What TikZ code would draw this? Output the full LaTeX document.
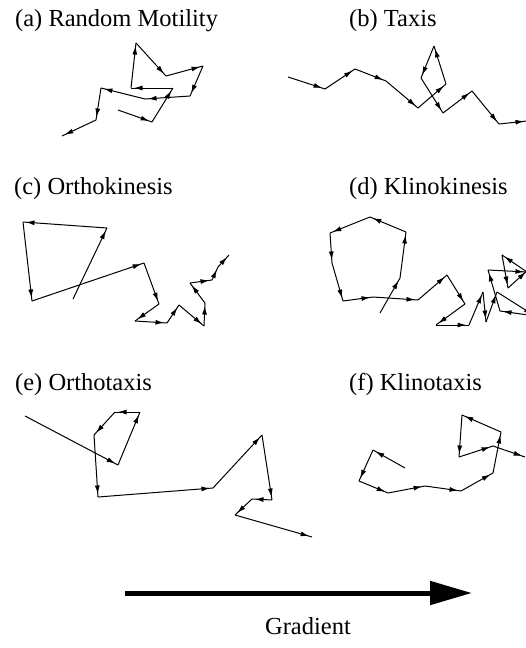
\documentclass[tikz,border=0pt]{standalone}
\usepackage{fontspec}
\setmainfont{Liberation Serif}
\usetikzlibrary{arrows.meta,decorations.markings}

\begin{document}
\begin{tikzpicture}[x=1pt, y=-1pt,
    seg/.style={line width=1pt, postaction={decorate},
        decoration={markings, mark=at position -3pt with {\arrow{Latex[length=8.5pt,width=5pt]}}}},
    nhan/.style={anchor=base west, inner sep=0pt, font=\fontsize{24.5}{28}\selectfont}]
    \clip (0,0) rectangle (526,648);

    % 1. Tên các hình
    \node[nhan] (ta) at (15,26) {(a) Random Motility};
    \node[nhan] (tb) at (349,26) {(b) Taxis};
    \node[nhan] (tc) at (14,194) {(c) Orthokinesis};
    \node[nhan] (td) at (349,194) {(d) Klinokinesis};
    \node[nhan] (te) at (15,390) {(e) Orthotaxis};
    \node[nhan] (tf) at (349,390) {(f) Klinotaxis};

    % 2. (a) Random Motility
    \foreach \x/\y [count=\i, remember=\x as \ox, remember=\y as \oy] in
        {118/110, 152/122, 173/88, 131/88, 136/43, 166/76, 203/66, 190/96,
         145/99, 101/88, 96/120, 62/136} {
        \ifnum\i>1 \draw[seg] (\ox,\oy) -- (\x,\y); \fi
    }

    % 3. (b) Taxis
    \foreach \x/\y [count=\i, remember=\x as \ox, remember=\y as \oy] in
        {288/77, 325/89, 355/69, 386/81, 418/108, 446/84, 434/46, 421/78,
         443/113, 472/91, 499/124, 527/121} {
        \ifnum\i>1 \draw[seg] (\ox,\oy) -- (\x,\y); \fi
    }

    % 4. (c) Orthokinesis
    \foreach \x/\y [count=\i, remember=\x as \ox, remember=\y as \oy] in
        {73/299, 107/228, 23/222, 32/301, 144/263, 159/304, 135/321, 167/323,
         179/305, 204/326, 205/303, 190/283, 212/280, 218/267, 229/255} {
        \ifnum\i>1 \draw[seg] (\ox,\oy) -- (\x,\y); \fi
    }

    % 5. (d) Klinokinesis
    \foreach \x/\y [count=\i, remember=\x as \ox, remember=\y as \oy] in
        {380/313, 400/278, 406/232, 370/217, 330/233, 332/263, 343/301, 373/297,
         418/300, 447/275, 465/304, 436/325, 469/325, 483/292, 486/322, 497/292,
         535/316, 500/311, 488/270, 527/272, 502/255, 508/288, 528/270} {
        \ifnum\i>1 \draw[seg] (\ox,\oy) -- (\x,\y); \fi
    }

    % 6. (e) Orthotaxis
    \foreach \x/\y [count=\i, remember=\x as \ox, remember=\y as \oy] in
        {25/416, 118/465, 140/412, 115/412, 94/435, 98/497, 213/488, 262/435,
         272/500, 252/499, 235/515, 312/537} {
        \ifnum\i>1 \draw[seg] (\ox,\oy) -- (\x,\y); \fi
    }

    % 7. (f) Klinotaxis
    \foreach \x/\y [count=\i, remember=\x as \ox, remember=\y as \oy] in
        {405/468, 373/450, 359/481, 388/493, 425/486, 461/491, 493/473, 501/432,
         462/415, 459/457, 493/446, 525/457} {
        \ifnum\i>1 \draw[seg] (\ox,\oy) -- (\x,\y); \fi
    }

    % 8. Mũi tên gradient
    \coordinate (gs) at (125,593);
    \coordinate (ge) at (472,593);
    \draw[line width=5pt, -{Triangle[length=42pt,width=23pt]}] (gs) -- (ge);
    \node[anchor=base, inner sep=0pt, font=\fontsize{24.5}{28}\selectfont] (grad) at (308,634) {Gradient};
\end{tikzpicture}
\end{document}
